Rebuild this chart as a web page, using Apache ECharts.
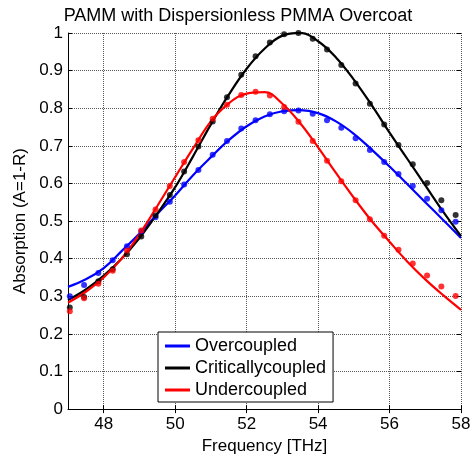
<!DOCTYPE html>
<html>
<head>
<meta charset="utf-8">
<script src="https://cdn.jsdelivr.net/npm/echarts@6/dist/echarts.min.js"></script>
<style>html,body{margin:0;padding:0;background:#fff;}#c{width:476px;height:460px;}</style>
</head>
<body>
<div id="c"></div>
<script>
const titleText = 'PAMM with Dispersionless PMMA Overcoat';
const xName = 'Frequency [THz]';
const yName = 'Absorption (A=1-R)';
const seriesNames = ['Overcoupled', 'Criticallycoupled', 'Undercoupled'];
const xTicks = [48, 50, 52, 54, 56, 58];

// measured points
const dotFreq = [47.05,47.45,47.85,48.25,48.65,49.05,49.45,49.85,50.25,50.65,51.05,51.45,51.85,52.25,52.65,53.05,53.45,53.85,54.25,54.65,55.05,55.45,55.85,56.25,56.65,57.05,57.45,57.85];
const overDots  = [0.300,0.330,0.362,0.396,0.433,0.472,0.510,0.551,0.597,0.636,0.676,0.713,0.746,0.768,0.784,0.792,0.794,0.785,0.768,0.748,0.720,0.689,0.657,0.625,0.593,0.559,0.529,0.498];
const critDots  = [0.270,0.298,0.340,0.372,0.412,0.459,0.515,0.569,0.632,0.698,0.765,0.829,0.889,0.938,0.975,0.997,1.000,0.985,0.956,0.915,0.866,0.812,0.757,0.702,0.651,0.601,0.555,0.516];
const underDots = [0.260,0.295,0.333,0.368,0.422,0.475,0.531,0.593,0.657,0.715,0.772,0.809,0.835,0.844,0.834,0.803,0.764,0.713,0.660,0.606,0.555,0.505,0.461,0.424,0.387,0.355,0.326,0.301];

// fitted curves
const lineFreq = [47,47.5,48,48.5,49,49.5,50,50.5,51,51.5,52,52.5,53,53.5,54,54.5,55,55.5,56,56.5,57,57.5,58];
const overLine  = [0.325,0.345,0.375,0.420,0.467,0.519,0.568,0.622,0.670,0.715,0.752,0.778,0.792,0.795,0.787,0.765,0.732,0.690,0.645,0.598,0.550,0.503,0.455];
const critLine  = [0.290,0.318,0.355,0.400,0.455,0.520,0.590,0.672,0.757,0.836,0.905,0.958,0.993,1.000,0.978,0.935,0.876,0.808,0.735,0.665,0.595,0.525,0.460];
const underLine = [0.283,0.312,0.350,0.400,0.465,0.540,0.617,0.693,0.765,0.813,0.839,0.843,0.812,0.760,0.696,0.628,0.562,0.500,0.445,0.392,0.345,0.303,0.264];

const colors = ['#0000ff', '#000000', '#ff0000'];
const FONT = 'Arial, "Liberation Sans", sans-serif';

function zip(xs, ys) { return xs.map((x, i) => [x, ys[i]]); }

const chart = echarts.init(document.getElementById('c'), null, {renderer: 'canvas'});
const gridLine = {show: true, lineStyle: {color: '#555', type: [1, 1], width: 1}};

const lines = [overLine, critLine, underLine];
const dots = [overDots, critDots, underDots];
const series = [];
lines.forEach((ys, i) => {
  series.push({
    name: seriesNames[i], type: 'line', data: zip(lineFreq, ys), smooth: 0.4,
    symbol: 'none', lineStyle: {color: colors[i], width: 2.2}, itemStyle: {color: colors[i]},
    z: 3, silent: true
  });
});
dots.forEach((ys, i) => {
  series.push({
    name: seriesNames[i] + ' data', type: 'scatter', data: zip(dotFreq, ys),
    symbol: 'circle', symbolSize: 6, itemStyle: {color: colors[i]}, z: 4, silent: true
  });
});

chart.setOption({
  animation: false,
  backgroundColor: '#fff',
  title: {
    text: titleText, left: 'center', top: 2,
    textStyle: {fontFamily: FONT, fontSize: 18, fontWeight: 'normal', color: '#000'}
  },
  legend: {
    data: seriesNames, orient: 'vertical', left: 158, top: 332,
    icon: 'rect', itemWidth: 25, itemHeight: 3, itemGap: 4,
    padding: [5, 7, 3, 7],
    backgroundColor: '#fff', borderColor: '#000', borderWidth: 1,
    textStyle: {fontFamily: FONT, fontSize: 18, color: '#000', lineHeight: 18},
    z: 10
  },
  grid: {left: 68, right: 15, top: 33, bottom: 46, containLabel: false},
  xAxis: [{
    type: 'value', min: 47, max: 58, position: 'bottom',
    name: xName, nameLocation: 'middle', nameGap: 24,
    nameTextStyle: {fontFamily: FONT, fontSize: 17, color: '#000'},
    axisLine: {show: true, onZero: false, lineStyle: {color: '#000', width: 1}},
    axisTick: {show: true, inside: true, length: 4, customValues: xTicks, lineStyle: {color: '#000'}},
    axisLabel: {customValues: xTicks, fontFamily: FONT, fontSize: 17, color: '#000', margin: 7},
    splitLine: gridLine
  }, {
    type: 'value', min: 47, max: 58, position: 'top',
    axisLine: {show: false},
    axisTick: {show: true, inside: true, length: 4, customValues: xTicks, lineStyle: {color: '#000'}},
    axisLabel: {show: false}, splitLine: {show: false}
  }],
  yAxis: [{
    type: 'value', min: 0, max: 1, interval: 0.1, position: 'left',
    name: yName, nameLocation: 'middle', nameGap: 35,
    nameTextStyle: {fontFamily: FONT, fontSize: 17, color: '#000'},
    axisLine: {show: true, onZero: false, lineStyle: {color: '#000', width: 1}},
    axisTick: {show: true, inside: true, length: 4, lineStyle: {color: '#000'}},
    axisLabel: {fontFamily: FONT, fontSize: 17, color: '#000', margin: 5,
      formatter: v => String(Math.round(v * 10) / 10)},
    splitLine: gridLine
  }, {
    type: 'value', min: 0, max: 1, interval: 0.1, position: 'right',
    axisLine: {show: false},
    axisTick: {show: true, inside: true, length: 4, lineStyle: {color: '#000'}},
    axisLabel: {show: false}, splitLine: {show: false}
  }],
  series: series
});
</script>
</body>
</html>
